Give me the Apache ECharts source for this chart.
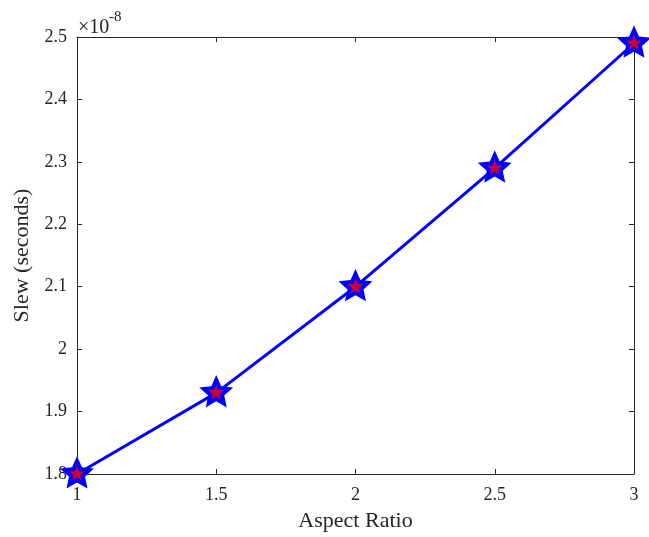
<!DOCTYPE html>
<html>
<head>
<meta charset="utf-8">
<script src="https://cdn.jsdelivr.net/npm/echarts@6/dist/echarts.min.js"></script>
<style>html,body{margin:0;padding:0;background:#fff;}#c{width:649px;height:537px;}</style>
</head>
<body>
<div id="c"></div>
<script>
// Data (slew in units of 1e-8 seconds)
const aspectRatio = [1, 1.5, 2, 2.5, 3];
const slewE8 = [1.80, 1.93, 2.10, 2.29, 2.49];
const xTicks = [1, 1.5, 2, 2.5, 3];
const yTicks = [1.8, 1.9, 2, 2.1, 2.2, 2.3, 2.4, 2.5];

function starPath(inner) {
  const pts = [];
  for (let k = 0; k < 10; k++) {
    const r = (k % 2 === 0) ? 1 : inner;
    const a = (-90 + 36 * k) * Math.PI / 180;
    pts.push((r * Math.cos(a)).toFixed(4) + ',' + (r * Math.sin(a)).toFixed(4));
  }
  return 'path://M' + pts.join(' L') + ' Z';
}
const STAR_OUT = starPath(0.47);
const STAR_IN = starPath(0.40);
const FONT = '"Liberation Serif", "Times New Roman", serif';
const pairs = aspectRatio.map((x, i) => [x, slewE8[i]]);

const axisLineStyle = { show: true, lineStyle: { color: '#262626', width: 1 } };
const tickStyle = { show: true, inside: true, length: 5, lineStyle: { color: '#262626', width: 1 } };

const chart = echarts.init(document.getElementById('c'), null, { renderer: 'canvas' });
chart.setOption({
  animation: false,
  backgroundColor: '#fff',
  grid: { left: 77, right: 15, top: 37, bottom: 61, containLabel: false },
  xAxis: [{
    type: 'value', min: 1, max: 3, interval: 0.5,
    name: 'Aspect Ratio', nameLocation: 'middle', nameGap: 36,
    nameTextStyle: { fontFamily: FONT, fontSize: 22, color: '#262626' },
    axisLine: axisLineStyle, axisTick: tickStyle,
    axisLabel: { fontFamily: FONT, fontSize: 18, color: '#262626', margin: 12,
      formatter: v => String(+v.toFixed(2)) },
    splitLine: { show: false }
  }, {
    type: 'value', min: 1, max: 3, interval: 0.5, position: 'top',
    axisLine: axisLineStyle, axisTick: tickStyle, axisLabel: { show: false }, splitLine: { show: false }
  }],
  yAxis: [{
    type: 'value', min: 1.8, max: 2.5, interval: 0.1,
    name: 'Slew (seconds)', nameLocation: 'middle', nameGap: 44,
    nameTextStyle: { fontFamily: FONT, fontSize: 22, color: '#262626' },
    axisLine: axisLineStyle, axisTick: tickStyle,
    axisLabel: { fontFamily: FONT, fontSize: 18, color: '#262626', margin: 10,
      formatter: v => String(+v.toFixed(2)) },
    splitLine: { show: false }
  }, {
    type: 'value', min: 1.8, max: 2.5, interval: 0.1, position: 'right',
    axisLine: axisLineStyle, axisTick: tickStyle, axisLabel: { show: false }, splitLine: { show: false }
  }],
  graphic: [{
    type: 'text', x: 78, y: 28,
    style: { text: '\u00d710', fontFamily: FONT, fontSize: 20, fill: '#262626', verticalAlign: 'middle', align: 'left' }
  }, {
    type: 'text', x: 109, y: 17.5,
    style: { text: '-8', fontFamily: FONT, fontSize: 15, fill: '#262626', verticalAlign: 'middle', align: 'left' }
  }],
  series: [{
    type: 'line', data: pairs, xAxisIndex: 0, yAxisIndex: 0,
    lineStyle: { color: '#0000ff', width: 3 },
    symbol: STAR_OUT, symbolSize: 34, symbolKeepAspect: true, symbolOffset: [0, -1.6],
    itemStyle: { color: '#0000ff' },
    z: 3, clip: false
  }, {
    type: 'scatter', data: pairs, xAxisIndex: 0, yAxisIndex: 0,
    symbol: STAR_IN, symbolSize: 16, symbolKeepAspect: true, symbolOffset: [0, -0.8],
    itemStyle: { color: '#ff0000' }, z: 4, clip: false
  }]
});
</script>
</body>
</html>
